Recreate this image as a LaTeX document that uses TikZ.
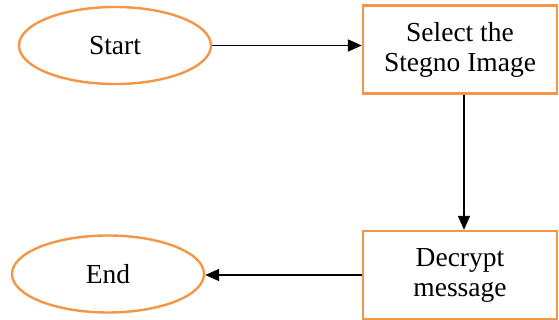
\documentclass[tikz,border=0pt]{standalone}
\usepackage{fontspec}
\setmainfont{Liberation Serif}
\usetikzlibrary{shapes.geometric,arrows.meta}
\definecolor{orng}{RGB}{245,150,70}
\begin{document}
\begin{tikzpicture}[x=1pt,y=-1pt,
  term/.style={ellipse,draw=orng,line width=2.4pt,minimum width=192pt,minimum height=77pt,inner sep=0pt,font=\fontsize{27.5}{30}\selectfont},
  proc/.style={rectangle,draw=orng,line width=2.4pt,minimum width=194pt,minimum height=88pt,inner sep=0pt,align=center,font=\fontsize{27.5}{30}\selectfont},
  conn/.style={line width=1.8pt,-{Triangle[length=14pt,width=12pt]}}]
\useasboundingbox (0,0) rectangle (559,320);
\node[term] (start) at (115,45.5) {Start};
\node[proc] (sel) at (460,49.5) {Select the\\Stegno Image};
\node[proc] (dec) at (460,275) {Decrypt\\message};
\node[term] (end) at (108,274) {End};
\draw[conn] (start.east) -- (sel.west |- start.east);
\draw[conn] (sel.south -| 464,0) -- (dec.north -| 464,0);
\draw[conn] (dec.west) -- (end.east |- dec.west);
\end{tikzpicture}
\end{document}
